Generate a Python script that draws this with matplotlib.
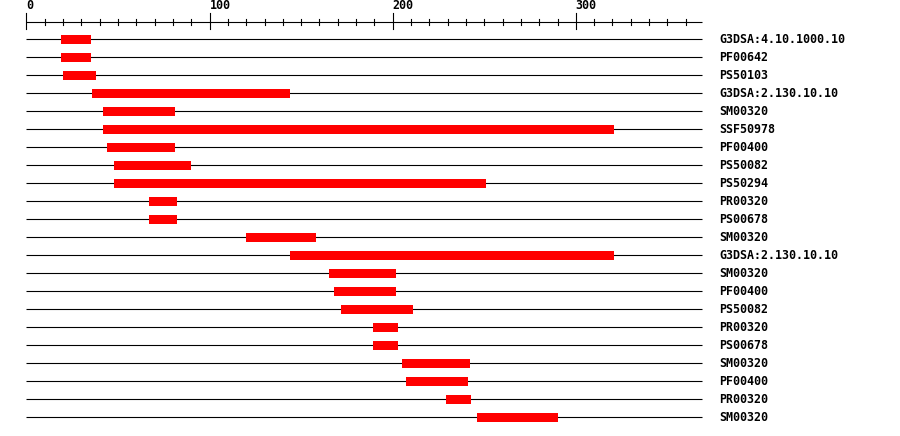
import matplotlib
matplotlib.use("Agg")
import matplotlib.pyplot as plt

# Domain hits along the protein sequence (residue positions)
labels = [
    "G3DSA:4.10.1000.10", "PF00642", "PS50103", "G3DSA:2.130.10.10",
    "SM00320", "SSF50978", "PF00400", "PS50082", "PS50294", "PR00320",
    "PS00678", "SM00320", "G3DSA:2.130.10.10", "SM00320", "PF00400",
    "PS50082", "PR00320", "PS00678", "SM00320", "PF00400", "PR00320",
    "SM00320",
]
starts = [19, 19, 20, 36, 42, 42, 44, 48, 48, 67, 67, 120, 144, 165, 168,
          172, 189, 189, 205, 207, 229, 246]
ends = [35, 35, 38, 144, 81, 321, 81, 90, 251, 82, 82, 158, 321, 202, 202,
        211, 203, 203, 242, 241, 243, 290]
seq_length = 369
major_ticks = [0, 100, 200, 300]
minor_ticks = list(range(0, 361, 10))

font = dict(family="DejaVu Sans Mono", fontweight="bold", fontsize=8.4)

fig = plt.figure(figsize=(9, 4.36), dpi=100)
ax = fig.add_axes([0, 0, 1, 1])
ax.set_xlim(-14.47, 477.05)
ax.set_ylim(22.04, -2.183)
ax.axis("off")

# Ruler on top
ruler_y = -0.96
ax.plot([0, seq_length], [ruler_y, ruler_y], color="black", lw=0.8,
        solid_capstyle="butt")
for t in minor_ticks:
    if t in major_ticks:
        ax.plot([t, t], [ruler_y - 0.48, ruler_y + 0.37], color="black", lw=0.8)
    else:
        ax.plot([t, t], [ruler_y - 0.17, ruler_y + 0.17], color="black", lw=0.8)
for t in major_ticks:
    ax.text(t, -1.52, str(t), ha="left", va="bottom", **font)

# One track per hit
for i, (lab, s, e) in enumerate(zip(labels, starts, ends)):
    ax.plot([0, seq_length], [i, i], color="black", lw=0.8,
            solid_capstyle="butt", zorder=1)
    ax.barh(i, e - s, left=s, height=0.52, color="#ff0000", linewidth=0,
            zorder=3)
    ax.text(378.4, i, lab, ha="left", va="center", **font)

plt.savefig("out.png", dpi=100)
